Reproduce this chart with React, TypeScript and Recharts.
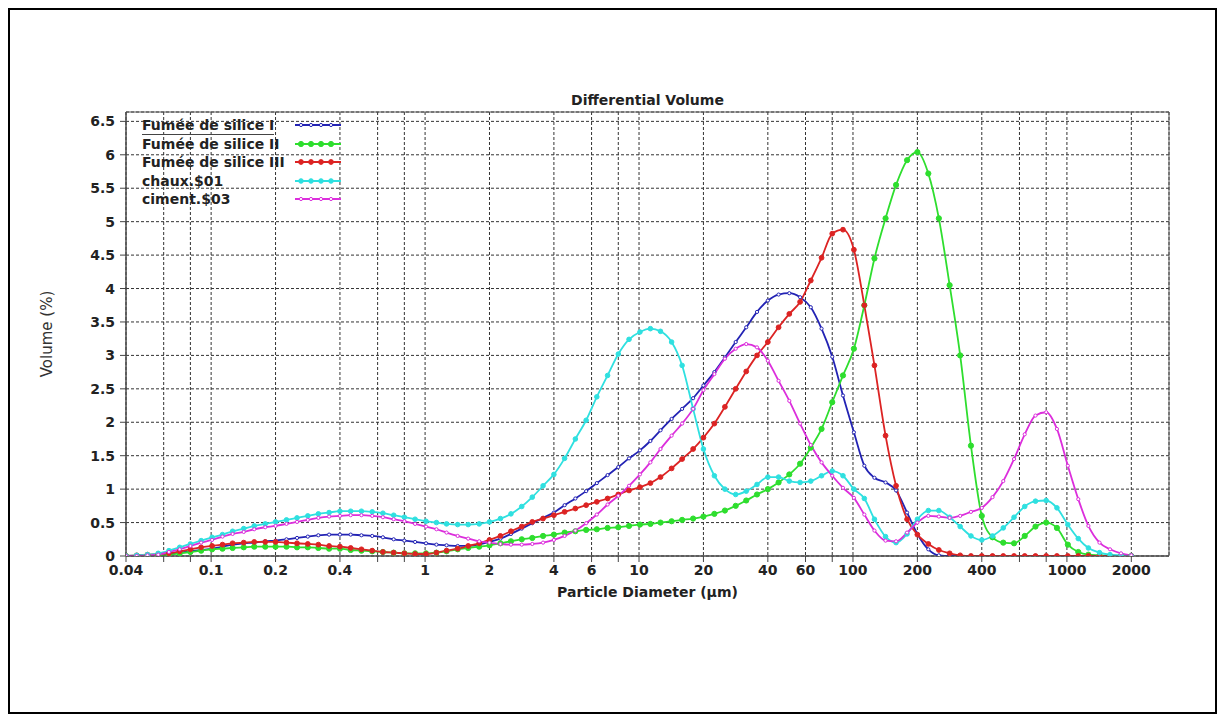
import { LineChart, Line, XAxis, YAxis, CartesianGrid, Legend, ReferenceArea } from "recharts";

// particle diameters (µm), 20 channels per decade
const diameters = [
  0.04, 0.0449, 0.0504, 0.0566, 0.0635, 0.0713, 0.08, 0.0898, 0.101, 0.113,
  0.126, 0.142, 0.159, 0.179, 0.2, 0.225, 0.252, 0.283, 0.317, 0.356,
  0.4, 0.449, 0.504, 0.566, 0.635, 0.713, 0.8, 0.898, 1.01, 1.13,
  1.26, 1.42, 1.59, 1.79, 2, 2.25, 2.52, 2.83, 3.17, 3.56,
  4, 4.49, 5.04, 5.66, 6.35, 7.13, 8, 8.98, 10.1, 11.3,
  12.6, 14.2, 15.9, 17.9, 20, 22.5, 25.2, 28.3, 31.7, 35.6,
  40, 44.9, 50.4, 56.6, 63.5, 71.3, 80, 89.8, 101, 113,
  126, 142, 159, 179, 200, 225, 252, 283, 317, 356,
  400, 449, 504, 566, 635, 713, 800, 898, 1010, 1130,
  1260, 1420, 1590, 1790, 2000,
];

const silice1 = [
  0, 0, 0.01, 0.02, 0.03, 0.05, 0.07, 0.09, 0.11, 0.14,
  0.17, 0.19, 0.2, 0.22, 0.23, 0.25, 0.27, 0.29, 0.31, 0.32,
  0.32, 0.32, 0.31, 0.3, 0.28, 0.25, 0.23, 0.21, 0.19, 0.17,
  0.16, 0.15, 0.15, 0.17, 0.21, 0.26, 0.33, 0.41, 0.49, 0.57,
  0.65, 0.76, 0.86, 0.97, 1.09, 1.21, 1.33, 1.46, 1.58, 1.72,
  1.88, 2.05, 2.2, 2.36, 2.55, 2.75, 2.97, 3.2, 3.42, 3.65,
  3.82, 3.91, 3.93, 3.87, 3.72, 3.4, 2.98, 2.4, 1.85, 1.35,
  1.17, 1.1, 0.98, 0.65, 0.33, 0.1, 0.01, 0, 0, 0,
  0, 0, 0, 0, 0, 0, 0, 0, 0, 0,
  0, 0, 0, 0, 0,
];

const silice2 = [
  0, 0, 0.01, 0.01, 0.02, 0.04, 0.06, 0.08, 0.1, 0.11,
  0.12, 0.13, 0.14, 0.14, 0.14, 0.14, 0.13, 0.13, 0.12, 0.11,
  0.11, 0.09, 0.08, 0.07, 0.06, 0.05, 0.04, 0.04, 0.04, 0.05,
  0.07, 0.1, 0.12, 0.14, 0.16, 0.19, 0.22, 0.25, 0.27, 0.3,
  0.32, 0.35, 0.37, 0.39, 0.4, 0.42, 0.43, 0.45, 0.47, 0.48,
  0.5, 0.52, 0.54, 0.56, 0.59, 0.63, 0.68, 0.75, 0.83, 0.92,
  1.0, 1.1, 1.22, 1.38, 1.62, 1.9, 2.3, 2.7, 3.1, 3.75,
  4.45, 5.05, 5.55, 5.92, 6.04, 5.72, 5.05, 4.05, 3.0, 1.65,
  0.6, 0.28, 0.2, 0.19, 0.3, 0.44, 0.5, 0.42, 0.17, 0.06,
  0.02, 0.01, 0, 0, 0,
];

const silice3 = [
  0, 0.01, 0.02, 0.03, 0.04, 0.07, 0.1, 0.13, 0.15, 0.17,
  0.19, 0.2, 0.21, 0.21, 0.21, 0.2, 0.19, 0.18, 0.17, 0.15,
  0.14, 0.12, 0.1, 0.08, 0.06, 0.05, 0.04, 0.03, 0.03, 0.05,
  0.08, 0.11, 0.15, 0.19, 0.24, 0.3, 0.37, 0.44, 0.51, 0.56,
  0.61, 0.66, 0.71, 0.76, 0.81, 0.86, 0.92, 0.98, 1.03, 1.09,
  1.18, 1.31, 1.45, 1.6, 1.77, 1.98, 2.23, 2.5, 2.76, 3.0,
  3.2, 3.42, 3.62, 3.8, 4.12, 4.46, 4.82, 4.88, 4.58, 3.75,
  2.85, 1.8, 1.05, 0.55, 0.32, 0.18, 0.09, 0.04, 0.01, 0,
  0, 0, 0, 0, 0, 0, 0, 0, 0, 0,
  0, 0, 0, 0, 0,
];

const chaux = [
  0, 0.01, 0.02, 0.04, 0.08, 0.13, 0.18, 0.23, 0.28, 0.32,
  0.37, 0.41, 0.45, 0.48, 0.51, 0.54, 0.57, 0.6, 0.63, 0.65,
  0.67, 0.67, 0.67, 0.66, 0.64, 0.61, 0.58, 0.55, 0.52, 0.5,
  0.48, 0.47, 0.47, 0.48, 0.51, 0.56, 0.63, 0.74, 0.88, 1.05,
  1.22, 1.46, 1.75, 2.03, 2.38, 2.7, 3.02, 3.24, 3.35, 3.4,
  3.36, 3.2, 2.85, 2.2, 1.6, 1.2, 1.0, 0.92, 0.97, 1.07,
  1.18, 1.18, 1.12, 1.1, 1.12, 1.2, 1.27, 1.2, 1.0, 0.86,
  0.55, 0.29, 0.2, 0.33, 0.55, 0.68, 0.68, 0.58, 0.44, 0.3,
  0.24, 0.3, 0.42, 0.58, 0.74, 0.82, 0.83, 0.72, 0.47, 0.26,
  0.12, 0.05, 0.02, 0.01, 0,
];

const ciment = [
  0, 0, 0.01, 0.02, 0.06, 0.1, 0.15, 0.2, 0.24, 0.29,
  0.33, 0.36, 0.4, 0.43, 0.45, 0.48, 0.51, 0.54, 0.57, 0.59,
  0.6, 0.61, 0.61, 0.6, 0.58, 0.55, 0.52, 0.48, 0.44, 0.4,
  0.35, 0.3, 0.26, 0.22, 0.2, 0.18, 0.17, 0.17, 0.18, 0.2,
  0.24, 0.3, 0.38, 0.49, 0.62, 0.77, 0.9, 1.05, 1.22, 1.4,
  1.6, 1.8, 1.98, 2.2, 2.48, 2.72, 2.95, 3.1, 3.17, 3.12,
  2.92, 2.62, 2.32, 1.98, 1.66, 1.4, 1.2, 1.02, 0.87, 0.62,
  0.38, 0.23, 0.22, 0.35, 0.5, 0.6, 0.59, 0.57, 0.6, 0.66,
  0.72, 0.88, 1.12, 1.45, 1.82, 2.1, 2.15, 1.9, 1.35, 0.85,
  0.45, 0.2, 0.1, 0.04, 0.01,
];

const xGridTicks = [
  0.04, 0.06, 0.08, 0.1, 0.2, 0.4, 0.6, 0.8, 1, 2, 4, 6, 8, 10, 20, 40, 60, 80,
  100, 200, 400, 600, 800, 1000, 2000,
];
const xLabelTicks = [0.04, 0.1, 0.2, 0.4, 1, 2, 4, 6, 10, 20, 40, 60, 100, 200, 400, 1000, 2000];
const yTicks = [0, 0.5, 1, 1.5, 2, 2.5, 3, 3.5, 4, 4.5, 5, 5.5, 6, 6.5];

const SERIES = [
  { key: "s1", name: "Fumée de silice I", color: "#2323b4", r: 1.6, hollow: true },
  { key: "s2", name: "Fumée de silice II", color: "#2ede2e", r: 2.6, hollow: false },
  { key: "s3", name: "Fumée de silice III", color: "#dc2323", r: 2.4, hollow: false },
  { key: "s4", name: "chaux.$01", color: "#2fe0e0", r: 2.3, hollow: false },
  { key: "s5", name: "ciment.$03", color: "#dc2edc", r: 1.6, hollow: true },
];

const data = diameters.map((d, i) => ({
  d,
  s1: silice1[i],
  s2: silice2[i],
  s3: silice3[i],
  s4: chaux[i],
  s5: ciment[i],
}));

const FONT = "'DejaVu Sans', Verdana, sans-serif";

function LegendBox({ payload }: any) {
  const items = payload && payload.length ? payload : SERIES.map((s) => ({ value: s.name, color: s.color, dataKey: s.key }));
  return (
    <div style={{ fontFamily: FONT, fontSize: 14, fontWeight: "bold", color: "#222" }}>
      {items.map((entry: any, i: number) => {
        const s = SERIES.find((x) => x.key === entry.dataKey) || SERIES[i];
        return (
          <div key={i} style={{ display: "flex", alignItems: "center", height: 18.5 }}>
            <span style={{ width: 153, whiteSpace: "nowrap" }}>
              <span style={{ borderBottom: i === 0 ? "1px solid #444" : "none", paddingBottom: 1 }}>{entry.value}</span>
            </span>
            <svg width={46} height={10}>
              <line x1={0} y1={5} x2={46} y2={5} stroke={s.color} strokeWidth={1.8} />
              {[6, 16, 26, 36].map((cx) => (
                <circle key={cx} cx={cx} cy={5} r={s.r} fill={s.hollow ? "#fff" : s.color} stroke={s.color} strokeWidth={1} />
              ))}
            </svg>
          </div>
        );
      })}
    </div>
  );
}

export default function App() {
  return (
    <div style={{ position: "relative", width: 1212, height: 708 }}>
      {/* outer frame */}
      <div
        style={{
          position: "absolute",
          left: 0,
          top: 0,
          width: 1209,
          height: 706,
          boxSizing: "border-box",
          border: "2px solid #000",
        }}
      />
      <div style={{ position: "absolute", left: 1212, top: 704, width: 5, height: 4, background: "#000" }} />

      {/* title */}
      <div
        style={{
          position: "absolute",
          left: 118,
          top: 84,
          width: 1043,
          textAlign: "center",
          fontFamily: FONT,
          fontSize: 14,
          fontWeight: "bold",
          color: "#222",
          lineHeight: "16px",
        }}
      >
        Differential Volume
      </div>

      <div style={{ position: "absolute", left: 0, top: 0 }}>
        <LineChart
          width={1210}
          height={700}
          data={data}
          margin={{ top: 104, right: 49, bottom: 102, left: 0 }}
          style={{ fontFamily: FONT }}
        >
          <CartesianGrid stroke="#333" strokeDasharray="3 2" strokeWidth={1} />
          <XAxis
            dataKey="d"
            type="number"
            scale="log"
            domain={[0.04, 3000]}
            allowDataOverflow
            ticks={xGridTicks}
            interval={0}
            height={50}
            tickSize={6}
            tickMargin={3}
            tickFormatter={(v: number) => (xLabelTicks.includes(v) ? String(v) : "")}
            tick={{ fontSize: 14, fontWeight: "bold", fill: "#222" }}
            stroke="#444"
            label={{
              value: "Particle Diameter (µm)",
              position: "insideBottom",
              offset: 9,
              fontSize: 14,
              fontWeight: "bold",
              fill: "#222",
            }}
          />
          <YAxis
            type="number"
            domain={[0, 6.64]}
            allowDataOverflow
            ticks={yTicks}
            interval={0}
            width={118}
            tickSize={6}
            tickMargin={5}
            tick={{ fontSize: 14, fontWeight: "bold", fill: "#222" }}
            stroke="#444"
            label={{
              value: "Volume (%)",
              angle: -90,
              position: "insideLeft",
              offset: 39,
              fontSize: 15,
              fill: "#333",
              style: { textAnchor: "middle" },
            }}
          />
          <ReferenceArea x1={0.04} x2={3000} y1={0} y2={6.64} fill="none" stroke="#555" strokeWidth={1} />
          <Legend
            layout="vertical"
            align="center"
            verticalAlign="middle"
            wrapperStyle={{ top: 108, left: 134, width: 210 }}
            content={<LegendBox />}
          />
          {SERIES.map((s) => (
            <Line
              key={s.key}
              dataKey={s.key}
              name={s.name}
              type="monotone"
              stroke={s.color}
              strokeWidth={1.8}
              dot={{ r: s.r, fill: s.hollow ? "#fff" : s.color, stroke: s.color, strokeWidth: 1 }}
              activeDot={false}
              isAnimationActive={false}
            />
          ))}
        </LineChart>
      </div>
    </div>
  );
}
